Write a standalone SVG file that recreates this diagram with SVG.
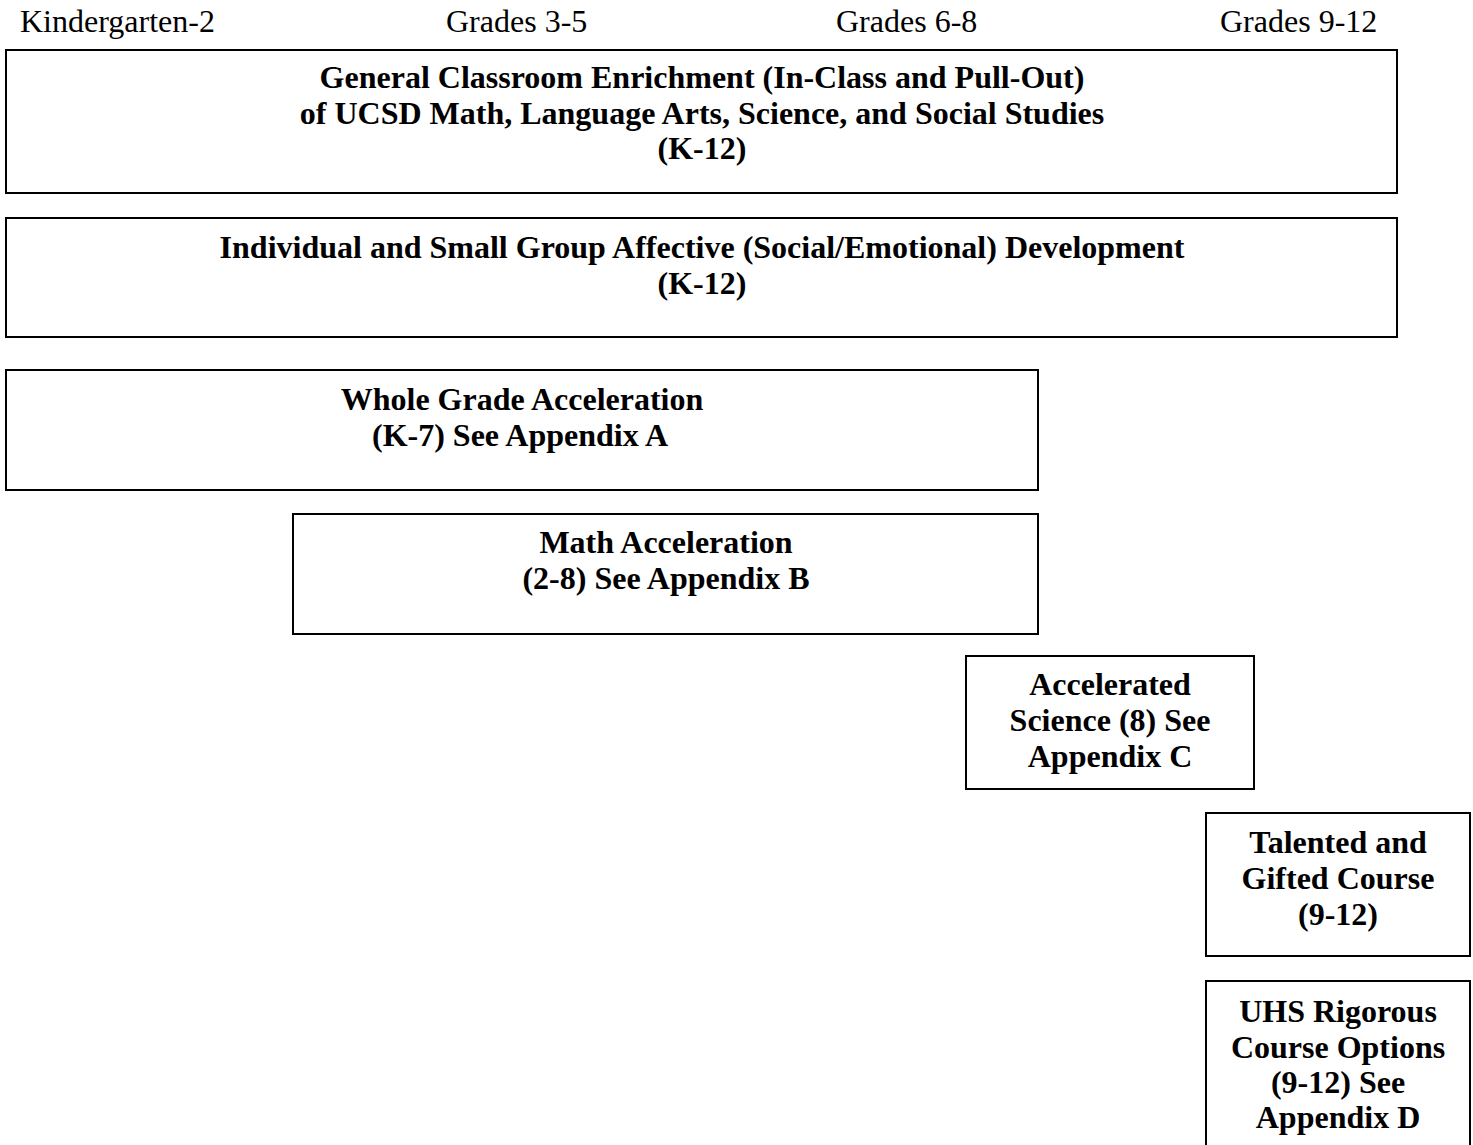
<svg xmlns="http://www.w3.org/2000/svg" width="1473" height="1145" viewBox="0 0 1473 1145">
<style>
.box{fill:#fff;stroke:#000;stroke-width:2}
.h{font-family:"Liberation Serif","Times New Roman",serif;font-size:32px;fill:#000}
.t{font-family:"Liberation Serif","Times New Roman",serif;font-size:32px;font-weight:bold;fill:#000;text-anchor:middle}
</style>
<rect width="1473" height="1145" fill="#fff"/>
<g id="headers">
<text class="h" x="20" y="32">Kindergarten-2</text>
<text class="h" x="446" y="32">Grades 3-5</text>
<text class="h" x="836" y="32">Grades 6-8</text>
<text class="h" x="1220" y="32">Grades 9-12</text>
</g>
<g id="connectors"></g>
<g id="enrichment">
<rect class="box" x="6" y="50" width="1391" height="143"/>
<text class="t" x="702" y="88">General Classroom Enrichment (In-Class and Pull-Out)</text>
<text class="t" x="702" y="124">of UCSD Math, Language Arts, Science, and Social Studies</text>
<text class="t" x="702" y="159">(K-12)</text>
</g>
<g id="affective">
<rect class="box" x="6" y="218" width="1391" height="119"/>
<text class="t" x="702" y="258">Individual and Small Group Affective (Social/Emotional) Development</text>
<text class="t" x="702" y="294">(K-12)</text>
</g>
<g id="wholegrade">
<rect class="box" x="6" y="370" width="1032" height="120"/>
<text class="t" x="522" y="410">Whole Grade Acceleration</text>
<text class="t" x="520" y="446">(K-7) See Appendix A</text>
</g>
<g id="math">
<rect class="box" x="293" y="514" width="745" height="120"/>
<text class="t" x="666" y="553">Math Acceleration</text>
<text class="t" x="666" y="589">(2-8) See Appendix B</text>
</g>
<g id="science">
<rect class="box" x="966" y="656" width="288" height="133"/>
<text class="t" x="1110" y="695">Accelerated</text>
<text class="t" x="1110" y="731">Science (8) See</text>
<text class="t" x="1110" y="767">Appendix C</text>
</g>
<g id="tag">
<rect class="box" x="1206" y="813" width="264" height="143"/>
<text class="t" x="1338" y="853">Talented and</text>
<text class="t" x="1338" y="889">Gifted Course</text>
<text class="t" x="1338" y="925">(9-12)</text>
</g>
<g id="uhs">
<rect class="box" x="1206" y="981" width="264" height="180"/>
<text class="t" x="1338" y="1022">UHS Rigorous</text>
<text class="t" x="1338" y="1058">Course Options</text>
<text class="t" x="1338" y="1093">(9-12) See</text>
<text class="t" x="1338" y="1128">Appendix D</text>
</g>
</svg>
